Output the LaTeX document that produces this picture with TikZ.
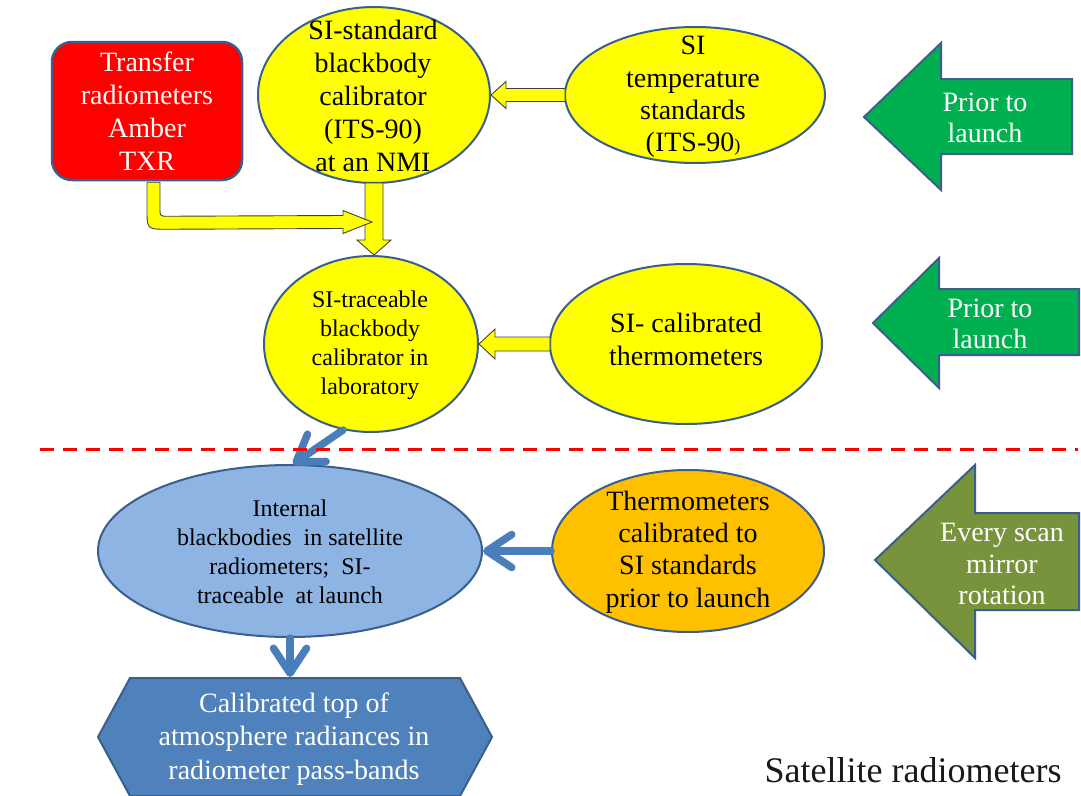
\documentclass[tikz,border=0pt]{standalone}
\usepackage{fontspec}
\setmainfont{Liberation Serif}
\usetikzlibrary{arrows.meta,calc,shapes.geometric}
\definecolor{bord}{HTML}{3A5F8B}
\definecolor{yel}{HTML}{FFFF00}
\definecolor{lblue}{HTML}{8EB4E3}
\definecolor{mblue}{HTML}{4F81BD}
\definecolor{lineblue}{HTML}{4A7EBB}
\definecolor{orng}{HTML}{FFC000}
\definecolor{grn}{HTML}{00B050}
\definecolor{olivegrn}{HTML}{77933C}
\definecolor{redbox}{HTML}{FF0000}
\tikzset{
 ell/.style={ellipse, draw=bord, line width=2pt, inner sep=0},
 txt/.style={align=center, inner sep=0, font=\fontsize{28}{33}\selectfont},
 txts/.style={align=center, inner sep=0, font=\fontsize{24}{29}\selectfont},
 yblock/.style={fill=yel, draw=black!75, line width=0.9pt, line join=miter},
 bline/.style={draw=lineblue, line width=7.5pt, line cap=round, -{Straight Barb[length=25pt,width=33pt,round]}},
 bigarrow/.style={draw=bord, line width=2pt, line join=miter},
}
\begin{document}
\begin{tikzpicture}[x=1pt,y=-1pt]
\fill[white] (0,0) rectangle (1081,795);
\useasboundingbox (0,0) rectangle (1081,795);

% red box
\node[draw=bord, line width=2.5pt, fill=redbox, rounded corners=20pt, minimum width=190pt, minimum height=138pt] (rb) at (147,111) {};
\node[txt, text=white] (rbt) at (147,111) {Transfer\\radiometers\\Amber\\TXR};

% top ellipses
\node[ell, fill=yel, minimum width=232pt, minimum height=176pt] (e1) at (374,95) {};
\node[txt] (e1t) at (373,96) {SI-standard\\blackbody\\calibrator\\(ITS-90)\\at an NMI};
\node[ell, fill=yel, minimum width=260pt, minimum height=136pt] (e2) at (695,95) {};
\node[txt, font=\fontsize{28}{32.3}\selectfont] (e2t) at (693,97) {SI\\temperature\\standards\\(ITS-90{\fontsize{18}{20}\selectfont)}};

% middle ellipses
\node[ell, fill=yel, minimum width=214pt, minimum height=176pt] (e3) at (371,344) {};
\node[txts] (e3t) at (370,345) {SI-traceable\\blackbody\\calibrator in\\laboratory};
\node[ell, fill=yel, minimum width=272pt, minimum height=160pt] (e4) at (686,344) {};
\node[txt] (e4t) at (686,339) {SI- calibrated\\thermometers};

% lower ellipses
\node[ell, fill=lblue, minimum width=384pt, minimum height=172pt] (e5) at (290,551) {};
\node[txts] (e5t) at (290,552) {Internal\\blackbodies\ \ in satellite\\radiometers;\ \ SI-\\traceable\ \ at launch};
\node[ell, fill=orng, minimum width=272pt, minimum height=162pt] (e6) at (688,551) {};
\node[txt, font=\fontsize{28}{32.3}\selectfont] (e6t) at (688,552) {Thermometers\\calibrated to\\SI standards\\prior to launch};

% hexagon
\draw[bigarrow, fill=mblue] (98,737) -- (130,678) -- (460,678) -- (492,737) -- (460,796) -- (130,796) -- cycle;
\coordinate (hextop) at (290,677);
\node[txt, text=white, font=\fontsize{28}{33.5}\selectfont] (hext) at (294,739) {Calibrated top of\\atmosphere radiances in\\radiometer pass-bands};

% side arrows
\draw[bigarrow, fill=grn] (864,117) -- (941,43) -- (941,79) -- (1072,79) -- (1072,154) -- (941,154) -- (941,190) -- cycle;
\node[txt, text=white, font=\fontsize{28}{31}\selectfont] (g1) at (985,118) {Prior to\\launch};
\draw[bigarrow, fill=grn] (873,323) -- (939,258) -- (939,289) -- (1079,289) -- (1079,355) -- (939,355) -- (939,388) -- cycle;
\node[txt, text=white, font=\fontsize{28}{31}\selectfont] (g2) at (990,324) {Prior to\\launch};
\draw[bigarrow, fill=olivegrn] (875,560) -- (975,465) -- (975,513) -- (1079,513) -- (1079,610) -- (975,610) -- (975,658) -- cycle;
\node[txt, text=white, font=\fontsize{28}{31.5}\selectfont] (g3) at (1002,564) {Every scan\\mirror\\rotation};

\node[inner sep=0, font=\fontsize{36}{40}\selectfont, text=black!90] (sat) at (913,770) {Satellite radiometers};

% yellow block arrows
\draw[yblock] (e1.east) -- ++(15,-13.5) -- ++(0,7) -- ($(e2.west)+(1,-6.5)$) -- ($(e2.west)+(1,6.5)$) -- ($(e1.east)+(15,6.5)$) -- ($(e1.east)+(15,13.5)$) -- cycle;
\draw[yblock] (e3.east) -- ++(16,-15) -- ++(0,8) -- ($(e4.west)+(1,-7)$) -- ($(e4.west)+(1,7)$) -- ($(e3.east)+(16,7)$) -- ($(e3.east)+(16,15)$) -- cycle;
\coordinate (vt) at (e1.south |- e3.north);
\draw[yblock] ($(e1.south)+(-9,-1)$) -- ($(vt)+(-9,-15)$) -- ($(vt)+(-17,-15)$) -- (vt) -- ($(vt)+(17,-15)$) -- ($(vt)+(9,-15)$) -- ($(e1.south)+(9,-1)$) -- cycle;
\coordinate (join) at (372,222);
\draw[yblock] ($(rb.south)+(0,1)$) -- ($(rb.south)+(0,28)$) .. controls ($(rb.south)+(0,48)$) .. ($(rb.south)+(20,48)$) -- ($(join)+(-29,6.5)$) -- ($(join)+(-29,11.5)$) -- (join) -- ($(join)+(-29,-11.5)$) -- ($(join)+(-29,-6.5)$) -- ($(rb.south)+(21,35)$) .. controls ($(rb.south)+(13,35)$) .. ($(rb.south)+(13,27)$) -- ($(rb.south)+(13,1)$) -- cycle;

% blue connectors
\draw[bline] (e3.-108) -- (e5.88);
\draw[bline] (e6.west) -- (e5.east);
\draw[bline] (e5.south) -- (hextop);

% separator
\draw[red, line width=3pt, dash pattern=on 14pt off 9pt] (40,449) -- (1078,449);
\end{tikzpicture}
\end{document}
